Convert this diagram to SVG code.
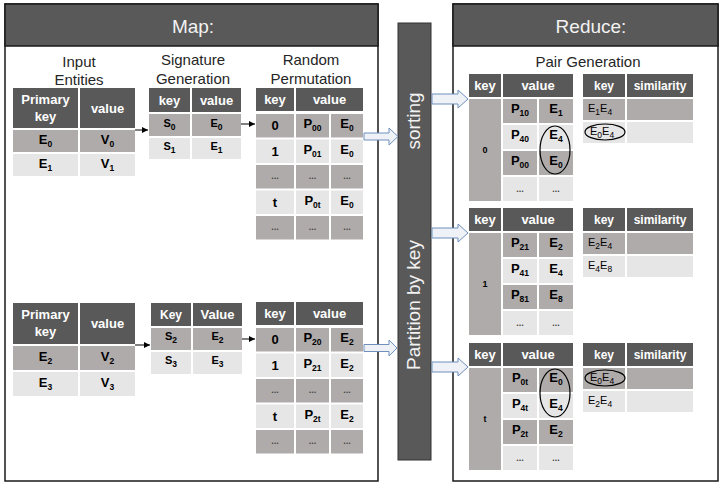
<svg xmlns="http://www.w3.org/2000/svg" width="720" height="485" viewBox="0 0 720 485">
<style>
.pn{fill:#fff;stroke:#1a1a1a;stroke-width:1.5}
.hd{fill:#595959;stroke:#1a1a1a;stroke-width:1.5}
.d{fill:#595959}
.g{fill:#afabab}
.l{fill:#e7e6e6}
text{font-family:"Liberation Sans",Arial,sans-serif}
.tt{font-size:15px;fill:#262626;text-anchor:middle}
.pt{font-size:19px;fill:#f2f2f2;text-anchor:middle}
.ht{font-size:13px;font-weight:bold;fill:#fff;text-anchor:middle}
.hs{font-size:12px;font-weight:bold;fill:#fff;text-anchor:middle}
.ct{font-size:13px;font-weight:bold;fill:#000;text-anchor:middle}
.cs{font-size:11px;font-weight:bold;fill:#000;text-anchor:middle}
.sm{font-size:11px;fill:#000}
.kk{font-size:9px;font-weight:bold;fill:#000;text-anchor:middle}
.s{font-size:8.5px}
.dt{font-size:9px;font-weight:bold;fill:#444;text-anchor:middle}
.conn{stroke:#000;stroke-width:1;fill:none;marker-end:url(#ah)}
.blk{fill:#eef2f7;stroke:#6f8fbd;stroke-width:1}
.ov{fill:none;stroke:#000;stroke-width:1.2}
</style>
<defs>
<marker id="ah" viewBox="0 0 8 8" refX="8" refY="4" markerWidth="6" markerHeight="6" orient="auto" markerUnits="userSpaceOnUse">
<path d="M0,0 L8,4 L0,8 Z" fill="#000"/>
</marker>
</defs>

<g id="map-panel">
<rect class="pn" x="5" y="4" width="373" height="477"/>
<rect class="hd" x="5" y="4" width="373" height="42"/>
<text class="pt" x="193" y="33">Map:</text>
<text class="tt" x="79" y="67">Input</text>
<text class="tt" x="79" y="85">Entities</text>
<text class="tt" x="193" y="65">Signature</text>
<text class="tt" x="193" y="84">Generation</text>
<text class="tt" x="311" y="65">Random</text>
<text class="tt" x="311" y="84">Permutation</text>
</g>

<g id="reduce-panel">
<rect class="pn" x="453" y="4" width="265" height="477"/>
<rect class="hd" x="453" y="4" width="265" height="42"/>
<text class="pt" x="591" y="33">Reduce:</text>
<text class="tt" x="588" y="67">Pair Generation</text>
</g>

<g id="shuffle-bar">
<rect x="398" y="23" width="33" height="437" fill="#595959" stroke="#333" stroke-width="1"/>
<text class="pt" transform="translate(420,121) rotate(-90)">sorting</text>
<text class="pt" transform="translate(420,305) rotate(-90)">Partition by key</text>
</g>

<!-- Top input entities -->
<g id="input-top">
<rect class="d" x="13" y="88" width="65" height="40"/>
<rect class="d" x="80" y="88" width="55" height="40"/>
<text class="ht" x="45.5" y="104">Primary</text>
<text class="ht" x="45.5" y="121">key</text>
<text class="ht" x="107.5" y="113">value</text>
<rect class="g" x="13" y="130" width="65" height="22"/>
<rect class="g" x="80" y="130" width="55" height="22"/>
<rect class="l" x="13" y="154" width="65" height="22"/>
<rect class="l" x="80" y="154" width="55" height="22"/>
<text class="ct" x="45.5" y="144">E<tspan class="s" dy="3">0</tspan></text>
<text class="ct" x="107.5" y="144">V<tspan class="s" dy="3">0</tspan></text>
<text class="ct" x="45.5" y="168">E<tspan class="s" dy="3">1</tspan></text>
<text class="ct" x="107.5" y="168">V<tspan class="s" dy="3">1</tspan></text>
</g>

<g id="sig-top">
<rect class="d" x="149" y="88" width="41" height="24"/>
<rect class="d" x="192" y="88" width="49" height="24"/>
<text class="ht" x="169.5" y="105">key</text>
<text class="ht" x="216.5" y="105">value</text>
<rect class="g" x="149" y="114" width="41" height="22"/>
<rect class="g" x="192" y="114" width="49" height="22"/>
<rect class="l" x="149" y="138" width="41" height="21"/>
<rect class="l" x="192" y="138" width="49" height="21"/>
<text class="cs" x="169.5" y="127">S<tspan class="s" dy="3">0</tspan></text>
<text class="cs" x="216.5" y="127">E<tspan class="s" dy="3">0</tspan></text>
<text class="cs" x="169.5" y="150">S<tspan class="s" dy="3">1</tspan></text>
<text class="cs" x="216.5" y="150">E<tspan class="s" dy="3">1</tspan></text>
</g>

<g id="perm-top">
<rect class="d" x="256" y="88" width="38" height="23"/>
<rect class="d" x="296" y="88" width="67" height="23"/>
<text class="ht" x="275" y="104">key</text>
<text class="ht" x="329.5" y="104">value</text>
<rect class="g" x="256" y="114" width="38" height="23.5"/><rect class="g" x="296" y="114" width="33" height="23.5"/><rect class="g" x="331" y="114" width="32" height="23.5"/>
<rect class="l" x="256" y="139.5" width="38" height="23.5"/><rect class="l" x="296" y="139.5" width="33" height="23.5"/><rect class="l" x="331" y="139.5" width="32" height="23.5"/>
<rect class="g" x="256" y="165" width="38" height="23.5"/><rect class="g" x="296" y="165" width="33" height="23.5"/><rect class="g" x="331" y="165" width="32" height="23.5"/>
<rect class="l" x="256" y="190.5" width="38" height="23.5"/><rect class="l" x="296" y="190.5" width="33" height="23.5"/><rect class="l" x="331" y="190.5" width="32" height="23.5"/>
<rect class="g" x="256" y="216" width="38" height="23.5"/><rect class="g" x="296" y="216" width="33" height="23.5"/><rect class="g" x="331" y="216" width="32" height="23.5"/>
<text class="ct" x="275" y="130">0</text>
<text class="ct" x="312.5" y="128">P<tspan class="s" dy="3">00</tspan></text>
<text class="ct" x="347" y="128">E<tspan class="s" dy="3">0</tspan></text>
<text class="ct" x="275" y="156">1</text>
<text class="ct" x="312.5" y="154">P<tspan class="s" dy="3">01</tspan></text>
<text class="ct" x="347" y="154">E<tspan class="s" dy="3">0</tspan></text>
<text class="dt" x="275" y="179">...</text><text class="dt" x="312.5" y="179">...</text><text class="dt" x="347" y="179">...</text>
<text class="ct" x="275" y="207">t</text>
<text class="ct" x="312.5" y="205">P<tspan class="s" dy="3">0t</tspan></text>
<text class="ct" x="347" y="205">E<tspan class="s" dy="3">0</tspan></text>
<text class="dt" x="275" y="230">...</text><text class="dt" x="312.5" y="230">...</text><text class="dt" x="347" y="230">...</text>
</g>

<!-- Bottom -->
<g id="input-bottom">
<rect class="d" x="13" y="303" width="65" height="41"/>
<rect class="d" x="80" y="303" width="55" height="41"/>
<text class="ht" x="45.5" y="319">Primary</text>
<text class="ht" x="45.5" y="336">key</text>
<text class="ht" x="107.5" y="328">value</text>
<rect class="g" x="13" y="346" width="65" height="24"/>
<rect class="g" x="80" y="346" width="55" height="24"/>
<rect class="l" x="13" y="372" width="65" height="24"/>
<rect class="l" x="80" y="372" width="55" height="24"/>
<text class="ct" x="45.5" y="361">E<tspan class="s" dy="3">2</tspan></text>
<text class="ct" x="107.5" y="361">V<tspan class="s" dy="3">2</tspan></text>
<text class="ct" x="45.5" y="387">E<tspan class="s" dy="3">3</tspan></text>
<text class="ct" x="107.5" y="387">V<tspan class="s" dy="3">3</tspan></text>
</g>

<g id="sig-bottom">
<rect class="d" x="151" y="303" width="40" height="23"/>
<rect class="d" x="193" y="303" width="49" height="23"/>
<text class="hs" x="171" y="319">Key</text>
<text class="ht" x="217.5" y="319">Value</text>
<rect class="g" x="151" y="328" width="40" height="22"/>
<rect class="g" x="193" y="328" width="49" height="22"/>
<rect class="l" x="151" y="352" width="40" height="22"/>
<rect class="l" x="193" y="352" width="49" height="22"/>
<text class="cs" x="171" y="340">S<tspan class="s" dy="3">2</tspan></text>
<text class="cs" x="217.5" y="340">E<tspan class="s" dy="3">2</tspan></text>
<text class="cs" x="171" y="364">S<tspan class="s" dy="3">3</tspan></text>
<text class="cs" x="217.5" y="364">E<tspan class="s" dy="3">3</tspan></text>
</g>

<g id="perm-bottom">
<rect class="d" x="256" y="302" width="38" height="23"/>
<rect class="d" x="296" y="302" width="67" height="23"/>
<text class="ht" x="275" y="318">key</text>
<text class="ht" x="329.5" y="318">value</text>
<rect class="g" x="256" y="328" width="38" height="23.5"/><rect class="g" x="296" y="328" width="33" height="23.5"/><rect class="g" x="331" y="328" width="32" height="23.5"/>
<rect class="l" x="256" y="353.5" width="38" height="23.5"/><rect class="l" x="296" y="353.5" width="33" height="23.5"/><rect class="l" x="331" y="353.5" width="32" height="23.5"/>
<rect class="g" x="256" y="379" width="38" height="23.5"/><rect class="g" x="296" y="379" width="33" height="23.5"/><rect class="g" x="331" y="379" width="32" height="23.5"/>
<rect class="l" x="256" y="404.5" width="38" height="23.5"/><rect class="l" x="296" y="404.5" width="33" height="23.5"/><rect class="l" x="331" y="404.5" width="32" height="23.5"/>
<rect class="g" x="256" y="430" width="38" height="23.5"/><rect class="g" x="296" y="430" width="33" height="23.5"/><rect class="g" x="331" y="430" width="32" height="23.5"/>
<text class="ct" x="275" y="344">0</text>
<text class="ct" x="312.5" y="342">P<tspan class="s" dy="3">20</tspan></text>
<text class="ct" x="347" y="342">E<tspan class="s" dy="3">2</tspan></text>
<text class="ct" x="275" y="370">1</text>
<text class="ct" x="312.5" y="368">P<tspan class="s" dy="3">21</tspan></text>
<text class="ct" x="347" y="368">E<tspan class="s" dy="3">2</tspan></text>
<text class="dt" x="275" y="393">...</text><text class="dt" x="312.5" y="393">...</text><text class="dt" x="347" y="393">...</text>
<text class="ct" x="275" y="421">t</text>
<text class="ct" x="312.5" y="419">P<tspan class="s" dy="3">2t</tspan></text>
<text class="ct" x="347" y="419">E<tspan class="s" dy="3">2</tspan></text>
<text class="dt" x="275" y="444">...</text><text class="dt" x="312.5" y="444">...</text><text class="dt" x="347" y="444">...</text>
</g>

<!-- Reduce group 0 -->
<g id="reduce-0">
<rect class="d" x="469" y="74" width="32" height="23"/>
<rect class="d" x="503" y="74" width="70" height="23"/>
<text class="ht" x="485" y="90">key</text>
<text class="ht" x="538" y="90">value</text>
<rect class="g" x="469" y="99" width="32" height="102"/>
<text class="kk" x="485" y="153">0</text>
<rect class="g" x="503" y="99" width="34" height="24"/><rect class="g" x="539" y="99" width="34" height="24"/>
<rect class="l" x="503" y="125" width="34" height="24"/><rect class="l" x="539" y="125" width="34" height="24"/>
<rect class="g" x="503" y="151" width="34" height="24"/><rect class="g" x="539" y="151" width="34" height="24"/>
<rect class="l" x="503" y="177" width="34" height="24"/><rect class="l" x="539" y="177" width="34" height="24"/>
<text class="ct" x="520" y="113">P<tspan class="s" dy="3">10</tspan></text>
<text class="ct" x="556" y="113">E<tspan class="s" dy="3">1</tspan></text>
<text class="ct" x="520" y="139">P<tspan class="s" dy="3">40</tspan></text>
<text class="ct" x="556" y="139">E<tspan class="s" dy="3">4</tspan></text>
<text class="ct" x="520" y="165">P<tspan class="s" dy="3">00</tspan></text>
<text class="ct" x="556" y="165">E<tspan class="s" dy="3">0</tspan></text>
<text class="dt" x="520" y="192">...</text><text class="dt" x="556" y="192">...</text>
<ellipse class="ov" cx="555" cy="150" rx="15" ry="24"/>
<rect class="d" x="583" y="74" width="42" height="23"/>
<rect class="d" x="627" y="74" width="66" height="23"/>
<text class="hs" x="604" y="90">key</text>
<text class="hs" x="660" y="90">similarity</text>
<rect class="g" x="583" y="99" width="42" height="21"/><rect class="g" x="627" y="99" width="66" height="21"/>
<rect class="l" x="583" y="122" width="42" height="21"/><rect class="l" x="627" y="122" width="66" height="21"/>
<text class="sm" x="588" y="112">E<tspan class="s" dy="3">1</tspan><tspan dy="-3">E</tspan><tspan class="s" dy="3">4</tspan></text>
<text class="sm" x="590" y="135">E<tspan class="s" dy="3">0</tspan><tspan dy="-3">E</tspan><tspan class="s" dy="3">4</tspan></text>
<ellipse class="ov" cx="605" cy="132" rx="20" ry="8"/>
</g>

<!-- Reduce group 1 -->
<g id="reduce-1">
<rect class="d" x="469" y="208" width="32" height="23"/>
<rect class="d" x="503" y="208" width="70" height="23"/>
<text class="ht" x="485" y="224">key</text>
<text class="ht" x="538" y="224">value</text>
<rect class="g" x="469" y="233" width="32" height="102"/>
<text class="kk" x="485" y="287">1</text>
<rect class="g" x="503" y="233" width="34" height="24"/><rect class="g" x="539" y="233" width="34" height="24"/>
<rect class="l" x="503" y="259" width="34" height="24"/><rect class="l" x="539" y="259" width="34" height="24"/>
<rect class="g" x="503" y="285" width="34" height="24"/><rect class="g" x="539" y="285" width="34" height="24"/>
<rect class="l" x="503" y="311" width="34" height="24"/><rect class="l" x="539" y="311" width="34" height="24"/>
<text class="ct" x="520" y="247">P<tspan class="s" dy="3">21</tspan></text>
<text class="ct" x="556" y="247">E<tspan class="s" dy="3">2</tspan></text>
<text class="ct" x="520" y="273">P<tspan class="s" dy="3">41</tspan></text>
<text class="ct" x="556" y="273">E<tspan class="s" dy="3">4</tspan></text>
<text class="ct" x="520" y="299">P<tspan class="s" dy="3">81</tspan></text>
<text class="ct" x="556" y="299">E<tspan class="s" dy="3">8</tspan></text>
<text class="dt" x="520" y="326">...</text><text class="dt" x="556" y="326">...</text>
<rect class="d" x="583" y="208" width="42" height="23"/>
<rect class="d" x="627" y="208" width="66" height="23"/>
<text class="hs" x="604" y="224">key</text>
<text class="hs" x="660" y="224">similarity</text>
<rect class="g" x="583" y="233" width="42" height="21"/><rect class="g" x="627" y="233" width="66" height="21"/>
<rect class="l" x="583" y="256" width="42" height="21"/><rect class="l" x="627" y="256" width="66" height="21"/>
<text class="sm" x="588" y="246">E<tspan class="s" dy="3">2</tspan><tspan dy="-3">E</tspan><tspan class="s" dy="3">4</tspan></text>
<text class="sm" x="588" y="269">E<tspan class="s" dy="3">4</tspan><tspan dy="-3">E</tspan><tspan class="s" dy="3">8</tspan></text>
</g>

<!-- Reduce group t -->
<g id="reduce-t">
<rect class="d" x="469" y="343" width="32" height="23"/>
<rect class="d" x="503" y="343" width="70" height="23"/>
<text class="ht" x="485" y="359">key</text>
<text class="ht" x="538" y="359">value</text>
<rect class="g" x="469" y="368" width="32" height="102"/>
<text class="kk" x="485" y="422">t</text>
<rect class="g" x="503" y="368" width="34" height="24"/><rect class="g" x="539" y="368" width="34" height="24"/>
<rect class="l" x="503" y="394" width="34" height="24"/><rect class="l" x="539" y="394" width="34" height="24"/>
<rect class="g" x="503" y="420" width="34" height="24"/><rect class="g" x="539" y="420" width="34" height="24"/>
<rect class="l" x="503" y="446" width="34" height="24"/><rect class="l" x="539" y="446" width="34" height="24"/>
<text class="ct" x="520" y="382">P<tspan class="s" dy="3">0t</tspan></text>
<text class="ct" x="556" y="382">E<tspan class="s" dy="3">0</tspan></text>
<text class="ct" x="520" y="408">P<tspan class="s" dy="3">4t</tspan></text>
<text class="ct" x="556" y="408">E<tspan class="s" dy="3">4</tspan></text>
<text class="ct" x="520" y="434">P<tspan class="s" dy="3">2t</tspan></text>
<text class="ct" x="556" y="434">E<tspan class="s" dy="3">2</tspan></text>
<text class="dt" x="520" y="461">...</text><text class="dt" x="556" y="461">...</text>
<ellipse class="ov" cx="555" cy="393" rx="15" ry="24"/>
<rect class="d" x="583" y="343" width="42" height="23"/>
<rect class="d" x="627" y="343" width="66" height="23"/>
<text class="hs" x="604" y="359">key</text>
<text class="hs" x="660" y="359">similarity</text>
<rect class="g" x="583" y="368" width="42" height="21"/><rect class="g" x="627" y="368" width="66" height="21"/>
<rect class="l" x="583" y="391" width="42" height="21"/><rect class="l" x="627" y="391" width="66" height="21"/>
<text class="sm" x="590" y="381">E<tspan class="s" dy="3">0</tspan><tspan dy="-3">E</tspan><tspan class="s" dy="3">4</tspan></text>
<text class="sm" x="588" y="404">E<tspan class="s" dy="3">2</tspan><tspan dy="-3">E</tspan><tspan class="s" dy="3">4</tspan></text>
<ellipse class="ov" cx="605" cy="378" rx="20" ry="8"/>
</g>

<g id="connectors">
<line class="conn" x1="135" y1="130" x2="148" y2="130"/>
<line class="conn" x1="241" y1="124" x2="255" y2="124"/>
<line class="conn" x1="135" y1="345" x2="150" y2="345"/>
<line class="conn" x1="242" y1="339" x2="255" y2="339"/>
<path class="blk" d="M364,133 H389 V128 L398,136.5 L389,145 V140 H364 Z"/>
<path class="blk" d="M364,344.5 H389 V340 L397,348 L389,356 V351.5 H364 Z"/>
<path class="blk" d="M432,94 H458 V90 L468,99 L458,108 V104 H432 Z"/>
<path class="blk" d="M432,228 H458 V224 L468,233 L458,242 V238 H432 Z"/>
<path class="blk" d="M432,362 H458 V358 L468,367 L458,376 V372 H432 Z"/>
</g>
</svg>
